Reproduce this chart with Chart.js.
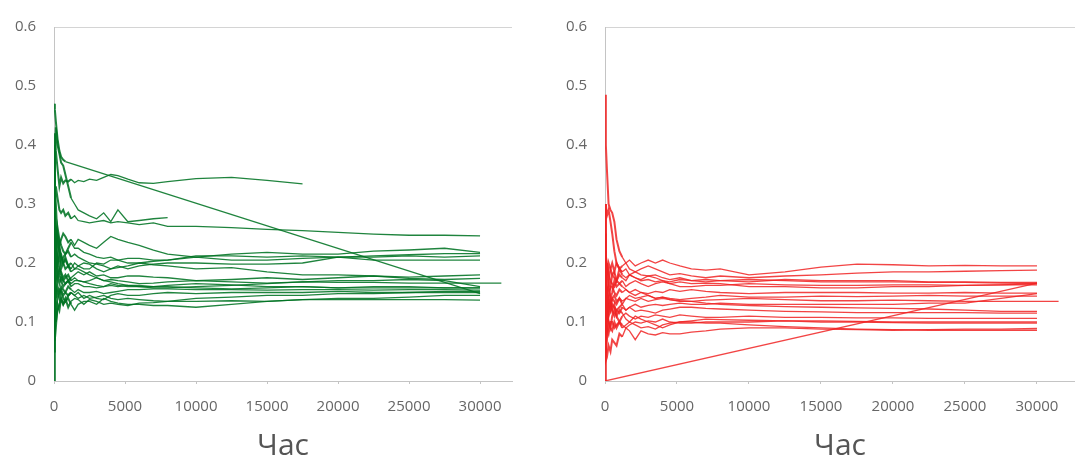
<!DOCTYPE html>
<html>
<head>
<meta charset="utf-8">
<script src="https://cdn.jsdelivr.net/npm/chart.js@4.4.1/dist/chart.umd.min.js"></script>
<style>
  body { margin: 0; background: #fff; }
  #wrap { position: relative; width: 1075px; height: 464px; }
  #left { position: absolute; left: 0; top: 0; }
  #right { position: absolute; left: 540px; top: 0; }
</style>
</head>
<body>
<div id="wrap">
  <canvas id="left" width="540" height="464"></canvas>
  <canvas id="right" width="535" height="464"></canvas>
</div>
<script>
// hours (shared x values)
const hours = [0, 60, 130, 250, 380, 500, 650, 800, 1000, 1200, 1450, 1700, 2100, 2500, 3000, 3500,
               4000, 4500, 5200, 6000, 7000, 8000, 10000, 12500, 15000, 17500, 20000, 22500, 25000, 27500, 30000, 31500];

const xTicks = [0, 5000, 10000, 15000, 20000, 25000, 30000];
const yTicks = [0, 0.1, 0.2, 0.3, 0.4, 0.5, 0.6];
const axisTitle = "Час";

const N = null;

// green panel
const greenSeries = [
  [0.47, 0.46, 0.44, 0.41, 0.39, 0.38, 0.375, 0.372, N, N, N, N, N, N, N, N, N, N, N, N, N, N, N, N, N, N, N, N, N, N, 0.148, N],
  [0.30, 0.42, 0.39, 0.36, 0.33, 0.345, 0.335, 0.34, 0.338, 0.342, 0.336, 0.34, 0.338, 0.342, 0.34, 0.345, 0.35, 0.348, 0.342, 0.336, 0.335, 0.338, 0.343, 0.345, 0.340, 0.334, N, N, N, N, N, N],
  [0.25, 0.38, 0.43, 0.40, 0.385, 0.37, 0.365, 0.35, 0.33, 0.31, 0.30, 0.29, 0.285, 0.28, 0.275, 0.285, 0.27, 0.29, 0.27, 0.272, 0.275, 0.277, N, N, N, N, N, N, N, N, N, N],
  [0.20, 0.30, 0.33, 0.31, 0.29, 0.285, 0.29, 0.28, 0.285, 0.275, 0.28, 0.272, 0.27, 0.268, 0.27, 0.272, 0.268, 0.27, 0.268, 0.265, 0.268, 0.262, 0.262, 0.26, 0.257, 0.255, 0.252, 0.249, 0.247, 0.247, 0.246, N],
  [0.15, 0.22, 0.26, 0.25, 0.23, 0.24, 0.25, 0.245, 0.235, 0.24, 0.23, 0.24, 0.235, 0.23, 0.225, 0.235, 0.245, 0.24, 0.235, 0.23, 0.222, 0.215, 0.21, 0.215, 0.218, 0.215, 0.215, 0.22, 0.222, 0.225, 0.218, N],
  [0.12, 0.28, 0.22, 0.26, 0.24, 0.23, 0.22, 0.215, 0.225, 0.235, 0.225, 0.225, 0.218, 0.215, 0.21, 0.208, 0.21, 0.205, 0.20, 0.20, 0.203, 0.205, 0.212, 0.212, 0.21, 0.212, 0.21, 0.21, 0.212, 0.21, 0.212, N],
  [0.18, 0.15, 0.20, 0.24, 0.22, 0.215, 0.20, 0.21, 0.195, 0.19, 0.20, 0.195, 0.19, 0.19, 0.20, 0.198, 0.205, 0.205, 0.208, 0.208, 0.205, 0.205, 0.21, 0.205, 0.205, 0.208, 0.21, 0.205, 0.205, 0.205, 0.205, N],
  [0.10, 0.20, 0.25, 0.20, 0.21, 0.19, 0.20, 0.205, 0.195, 0.20, 0.19, 0.195, 0.20, 0.198, 0.19, 0.185, 0.19, 0.192, 0.195, 0.20, 0.197, 0.195, 0.19, 0.192, 0.185, 0.18, 0.18, 0.178, 0.176, 0.178, 0.18, N],
  [0.25, 0.21, 0.18, 0.17, 0.19, 0.185, 0.175, 0.18, 0.17, 0.175, 0.18, 0.185, 0.18, 0.185, 0.178, 0.18, 0.175, 0.175, 0.178, 0.178, 0.176, 0.175, 0.17, 0.172, 0.175, 0.172, 0.175, 0.178, 0.174, 0.172, 0.174, N],
  [0.35, 0.25, 0.20, 0.18, 0.165, 0.175, 0.17, 0.165, 0.17, 0.165, 0.17, 0.17, 0.168, 0.17, 0.175, 0.17, 0.172, 0.17, 0.168, 0.165, 0.166, 0.168, 0.17, 0.168, 0.166, 0.168, 0.167, 0.167, 0.166, 0.166, 0.166, 0.166],
  [0.08, 0.12, 0.15, 0.19, 0.18, 0.17, 0.16, 0.165, 0.17, 0.16, 0.165, 0.165, 0.16, 0.16, 0.158, 0.16, 0.162, 0.16, 0.162, 0.162, 0.16, 0.16, 0.158, 0.156, 0.158, 0.16, 0.158, 0.16, 0.16, 0.158, 0.158, N],
  [0.30, 0.18, 0.14, 0.16, 0.15, 0.155, 0.145, 0.15, 0.16, 0.155, 0.15, 0.155, 0.15, 0.15, 0.152, 0.148, 0.15, 0.152, 0.155, 0.155, 0.156, 0.156, 0.155, 0.155, 0.154, 0.155, 0.155, 0.154, 0.155, 0.155, 0.154, N],
  [0.05, 0.10, 0.12, 0.14, 0.155, 0.15, 0.14, 0.135, 0.145, 0.15, 0.145, 0.15, 0.14, 0.145, 0.14, 0.138, 0.145, 0.148, 0.145, 0.145, 0.148, 0.15, 0.148, 0.15, 0.15, 0.15, 0.152, 0.15, 0.15, 0.15, 0.15, N],
  [0.0, 0.07, 0.09, 0.13, 0.12, 0.14, 0.13, 0.135, 0.14, 0.13, 0.12, 0.13, 0.135, 0.135, 0.13, 0.14, 0.135, 0.132, 0.13, 0.13, 0.128, 0.128, 0.125, 0.13, 0.135, 0.138, 0.14, 0.14, 0.142, 0.145, 0.145, N],
  [0.20, 0.13, 0.10, 0.12, 0.13, 0.14, 0.13, 0.14, 0.125, 0.135, 0.14, 0.138, 0.13, 0.138, 0.135, 0.13, 0.132, 0.13, 0.128, 0.132, 0.133, 0.135, 0.135, 0.136, 0.135, 0.138, 0.138, 0.138, 0.138, 0.138, 0.137, N],
  [0.40, 0.30, 0.22, 0.20, 0.23, 0.21, 0.20, 0.19, 0.195, 0.185, 0.19, 0.19, 0.185, 0.18, 0.175, 0.17, 0.168, 0.165, 0.162, 0.16, 0.158, 0.158, 0.16, 0.162, 0.165, 0.168, 0.17, 0.17, 0.172, 0.17, 0.16, N],
  [0.07, 0.11, 0.16, 0.15, 0.14, 0.16, 0.155, 0.15, 0.145, 0.15, 0.145, 0.14, 0.145, 0.14, 0.142, 0.145, 0.14, 0.138, 0.14, 0.138, 0.136, 0.135, 0.14, 0.142, 0.145, 0.145, 0.148, 0.148, 0.15, 0.152, 0.152, N],
  [0.28, 0.33, 0.30, 0.24, 0.22, 0.20, 0.21, 0.215, 0.22, 0.21, 0.215, 0.21, 0.205, 0.20, 0.198, 0.195, 0.19, 0.195, 0.19, 0.195, 0.198, 0.20, 0.20, 0.198, 0.198, 0.20, 0.21, 0.212, 0.214, 0.216, 0.216, N],
  [0.15, 0.24, 0.19, 0.21, 0.19, 0.18, 0.17, 0.175, 0.18, 0.17, 0.175, 0.17, 0.168, 0.165, 0.162, 0.16, 0.165, 0.162, 0.16, 0.16, 0.16, 0.162, 0.165, 0.163, 0.16, 0.16, 0.158, 0.158, 0.158, 0.158, 0.158, N]
];

// red panel
const redSeries = [
  [0.485, 0.40, 0.36, 0.30, 0.29, 0.285, 0.27, 0.24, 0.22, 0.21, 0.20, 0.205, 0.195, 0.20, 0.205, 0.20, 0.205, 0.20, 0.195, 0.19, 0.188, 0.19, 0.18, 0.185, 0.193, 0.198, 0.197, 0.195, 0.196, 0.195, 0.195, N],
  [0.0, N, N, N, N, N, N, N, N, N, N, N, N, N, N, N, N, N, N, N, N, N, N, N, N, N, N, N, N, N, 0.166, N],
  [0.10, 0.18, 0.20, 0.17, 0.19, 0.20, 0.185, 0.20, 0.19, 0.195, 0.20, 0.19, 0.185, 0.19, 0.195, 0.19, 0.185, 0.18, 0.182, 0.178, 0.175, 0.178, 0.175, 0.178, 0.18, 0.183, 0.185, 0.185, 0.186, 0.187, 0.188, N],
  [0.15, 0.10, 0.12, 0.17, 0.16, 0.18, 0.175, 0.17, 0.19, 0.18, 0.175, 0.18, 0.175, 0.172, 0.178, 0.175, 0.17, 0.168, 0.172, 0.17, 0.172, 0.17, 0.168, 0.172, 0.17, 0.17, 0.17, 0.168, 0.168, 0.167, 0.167, N],
  [0.20, 0.17, 0.15, 0.16, 0.14, 0.15, 0.17, 0.16, 0.165, 0.17, 0.16, 0.165, 0.17, 0.165, 0.16, 0.165, 0.168, 0.165, 0.16, 0.16, 0.162, 0.162, 0.165, 0.163, 0.162, 0.162, 0.163, 0.163, 0.162, 0.163, 0.163, N],
  [0.05, 0.09, 0.13, 0.14, 0.16, 0.16, 0.15, 0.145, 0.155, 0.15, 0.155, 0.15, 0.155, 0.15, 0.148, 0.152, 0.15, 0.155, 0.152, 0.155, 0.152, 0.15, 0.148, 0.15, 0.15, 0.15, 0.149, 0.149, 0.15, 0.149, 0.149, N],
  [0.30, 0.20, 0.14, 0.12, 0.13, 0.14, 0.135, 0.13, 0.14, 0.13, 0.14, 0.138, 0.135, 0.14, 0.135, 0.138, 0.14, 0.138, 0.136, 0.135, 0.137, 0.138, 0.14, 0.138, 0.136, 0.136, 0.137, 0.136, 0.135, 0.135, 0.135, 0.135],
  [0.08, 0.12, 0.10, 0.13, 0.12, 0.14, 0.145, 0.135, 0.14, 0.135, 0.14, 0.145, 0.14, 0.142, 0.145, 0.14, 0.142, 0.14, 0.138, 0.14, 0.142, 0.145, 0.142, 0.142, 0.144, 0.143, 0.144, 0.145, 0.144, 0.144, 0.144, N],
  [0.12, 0.14, 0.16, 0.11, 0.12, 0.13, 0.125, 0.12, 0.115, 0.125, 0.12, 0.125, 0.118, 0.12, 0.118, 0.115, 0.12, 0.122, 0.125, 0.125, 0.123, 0.122, 0.12, 0.118, 0.117, 0.116, 0.116, 0.116, 0.116, 0.115, 0.115, N],
  [0.0, 0.04, 0.07, 0.10, 0.09, 0.11, 0.12, 0.11, 0.10, 0.11, 0.115, 0.11, 0.105, 0.11, 0.108, 0.112, 0.11, 0.108, 0.112, 0.11, 0.108, 0.108, 0.11, 0.108, 0.108, 0.107, 0.107, 0.106, 0.106, 0.106, 0.106, N],
  [0.18, 0.12, 0.09, 0.08, 0.10, 0.10, 0.09, 0.095, 0.10, 0.095, 0.09, 0.095, 0.10, 0.098, 0.102, 0.10, 0.105, 0.10, 0.098, 0.098, 0.10, 0.10, 0.10, 0.102, 0.10, 0.10, 0.099, 0.098, 0.098, 0.098, 0.098, N],
  [0.06, 0.035, 0.04, 0.06, 0.05, 0.07, 0.065, 0.06, 0.08, 0.075, 0.09, 0.085, 0.07, 0.085, 0.08, 0.078, 0.082, 0.08, 0.08, 0.083, 0.085, 0.088, 0.09, 0.09, 0.088, 0.087, 0.086, 0.087, 0.088, 0.088, 0.089, N],
  [0.22, 0.16, 0.13, 0.10, 0.09, 0.085, 0.10, 0.09, 0.10, 0.09, 0.095, 0.10, 0.095, 0.09, 0.092, 0.088, 0.095, 0.098, 0.10, 0.10, 0.098, 0.098, 0.095, 0.092, 0.09, 0.088, 0.087, 0.086, 0.086, 0.086, 0.086, N],
  [0.14, 0.17, 0.20, 0.18, 0.17, 0.165, 0.16, 0.17, 0.165, 0.16, 0.155, 0.15, 0.145, 0.15, 0.145, 0.14, 0.142, 0.138, 0.135, 0.135, 0.132, 0.13, 0.128, 0.126, 0.125, 0.124, 0.123, 0.122, 0.12, 0.118, 0.118, N],
  [0.09, 0.14, 0.17, 0.20, 0.19, 0.18, 0.185, 0.17, 0.18, 0.175, 0.17, 0.18, 0.175, 0.17, 0.172, 0.168, 0.17, 0.165, 0.168, 0.165, 0.166, 0.165, 0.16, 0.16, 0.158, 0.158, 0.16, 0.16, 0.162, 0.163, 0.165, N],
  [0.25, 0.15, 0.11, 0.14, 0.13, 0.12, 0.11, 0.12, 0.125, 0.13, 0.12, 0.125, 0.13, 0.125, 0.128, 0.13, 0.128, 0.13, 0.132, 0.13, 0.13, 0.132, 0.13, 0.13, 0.13, 0.13, 0.13, 0.132, 0.132, 0.14, 0.148, N],
  [0.20, 0.30, 0.28, 0.29, 0.27, 0.25, 0.22, 0.20, 0.19, 0.185, 0.19, 0.18, 0.185, 0.18, 0.178, 0.18, 0.175, 0.172, 0.175, 0.17, 0.168, 0.17, 0.172, 0.17, 0.168, 0.168, 0.168, 0.167, 0.167, 0.166, 0.165, N],
  [0.13, 0.06, 0.08, 0.12, 0.14, 0.12, 0.13, 0.11, 0.12, 0.115, 0.105, 0.10, 0.11, 0.105, 0.10, 0.095, 0.09, 0.095, 0.10, 0.102, 0.105, 0.104, 0.103, 0.102, 0.102, 0.101, 0.10, 0.10, 0.10, 0.10, 0.10, N]
];

const tickFont = { family: "'Open Sans', sans-serif", size: 15 };

function toPoints(s) {
  return hours.map((x, i) => ({ x: x, y: s[i] })).filter(p => p.y !== null && p.y !== undefined);
}

function makeChart(id, series, color, xMax, yWidth, pad) {
  new Chart(document.getElementById(id), {
    type: "scatter",
    data: {
      datasets: series.map(s => ({
        data: toPoints(s),
        showLine: true,
        borderColor: color,
        borderWidth: 1.3,
        pointRadius: 0,
        tension: 0,
        // early part of every run is a dense tangle, drawn a bit heavier
        segment: { borderWidth: c => (c.p1.parsed.x <= 1200 ? 2 : 1.3) }
      }))
    },
    options: {
      responsive: false,
      animation: false,
      layout: { padding: pad },
      plugins: { legend: { display: false }, tooltip: { enabled: false } },
      scales: {
        x: {
          type: "linear",
          min: 0,
          max: xMax,
          afterBuildTicks: axis => { axis.ticks = xTicks.map(v => ({ value: v })); },
          afterFit: axis => { axis.height = 83; },
          border: { color: "#c4c4c4" },
          grid: { drawOnChartArea: false, tickLength: 3, color: "#c4c4c4" },
          ticks: { color: "#666", font: tickFont, padding: 14, maxRotation: 0, autoSkip: false, callback: v => String(v) },
          title: { display: true, text: axisTitle, color: "#555", font: { family: "'Open Sans', sans-serif", size: 30 }, padding: 0 }
        },
        y: {
          min: 0,
          max: 0.6,
          afterBuildTicks: axis => { axis.ticks = yTicks.map(v => ({ value: v })); },
          afterFit: axis => { axis.width = yWidth; },
          border: { color: "#c4c4c4" },
          grid: {
            drawTicks: false,
            color: c => (c.tick && c.tick.value === 0.6 ? "#d4d4d4" : "rgba(0,0,0,0)")
          },
          ticks: { color: "#666", font: tickFont, padding: 18, callback: v => String(v) }
        }
      }
    }
  });
}

makeChart("left", greenSeries, "rgba(0,115,35,0.88)", 32250, 54, { top: 26, right: 28, left: 0, bottom: 0 });
makeChart("right", redSeries, "rgba(240,35,35,0.85)", 32640, 65, { top: 25, right: 0, left: 0, bottom: 0 });
</script>
</body>
</html>
